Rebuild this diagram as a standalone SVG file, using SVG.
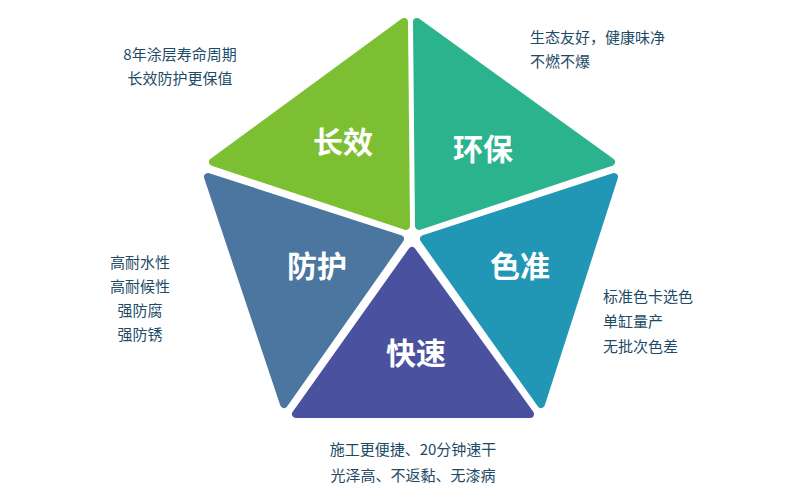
<svg xmlns="http://www.w3.org/2000/svg" width="800" height="500" viewBox="0 0 800 500">
<style>
.p{stroke-width:8;stroke-linejoin:round}
.t{font-family:"Noto Sans CJK SC","Noto Sans",sans-serif;font-weight:bold;font-size:30px;fill:#fff;text-anchor:middle}
.d{font-family:"Noto Sans CJK SC","Noto Sans",sans-serif;font-size:15px;fill:#1d4a66}
</style>
<rect width="800" height="500" fill="#fff"/>
<g id="changxiao"><polygon class="p" fill="#7dbf32" stroke="#7dbf32" points="404,22 213,162 406,226"/><text class="t" x="343" y="153">长效</text></g>
<g id="huanbao"><polygon class="p" fill="#2bb38d" stroke="#2bb38d" points="417,22 611,162 419,226"/><text class="t" x="483" y="160">环保</text></g>
<g id="fanghu"><polygon class="p" fill="#4a76a0" stroke="#4a76a0" points="208,177 400,239 284,404"/><text class="t" x="317" y="277">防护</text></g>
<g id="sezhun"><polygon class="p" fill="#2196b5" stroke="#2196b5" points="614,177 424,239 541,404"/><text class="t" x="520" y="277">色准</text></g>
<g id="kuaisu"><polygon class="p" fill="#4a52a0" stroke="#4a52a0" points="412,251 296,414 530,414"/><text class="t" x="416" y="364">快速</text></g>
<g id="labels">
<text class="d" x="180" y="60" text-anchor="middle">8年涂层寿命周期</text>
<text class="d" x="180" y="84" text-anchor="middle">长效防护更保值</text>
<text class="d" x="530" y="43">生态友好，健康味净</text>
<text class="d" x="530" y="67">不燃不爆</text>
<text class="d" x="140" y="268" text-anchor="middle">高耐水性</text>
<text class="d" x="140" y="292" text-anchor="middle">高耐候性</text>
<text class="d" x="140" y="316" text-anchor="middle">强防腐</text>
<text class="d" x="140" y="340" text-anchor="middle">强防锈</text>
<text class="d" x="603" y="302">标准色卡选色</text>
<text class="d" x="603" y="327">单缸量产</text>
<text class="d" x="603" y="352">无批次色差</text>
<text class="d" x="413" y="455" text-anchor="middle">施工更便捷、20分钟速干</text>
<text class="d" x="413" y="481" text-anchor="middle">光泽高、不返黏、无漆病</text>
</g>
</svg>
